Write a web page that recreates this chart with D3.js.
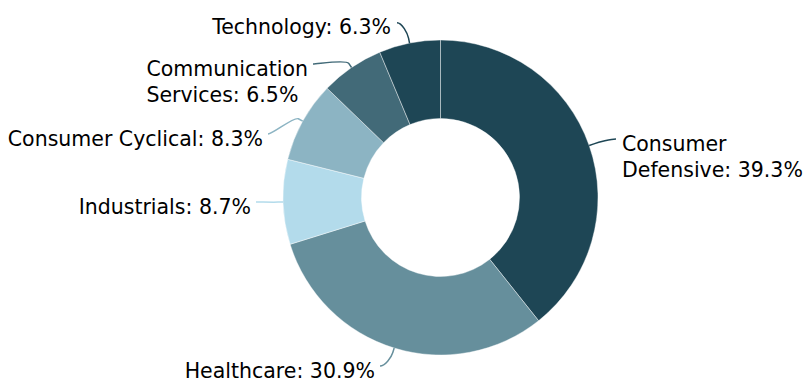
<!DOCTYPE html>
<html>
<head>
<meta charset="utf-8">
<script src="https://cdn.jsdelivr.net/npm/d3@7"></script>
<style>
	html, body { margin: 0; padding: 0; background: #ffffff; }
	svg { display: block; }
</style>
</head>
<body>
<div id="chart"></div>
<script>

// sector breakdown, clockwise from 12 o'clock
var sectors = ['Consumer Defensive', 'Healthcare', 'Industrials', 'Consumer Cyclical', 'Communication Services', 'Technology'];
var weights = [39.3, 30.9, 8.7, 8.3, 6.5, 6.3];
var colors = ['#1e4655', '#668f9c', '#b3dbeb', '#8cb4c3', '#426a78', '#1e4655'];

// where each label's connector ends (relative to pie centre), and how the text wraps
var labelAnchors = [[175.5, -58.5], [-60.5, 168.5], [-184.5, 4.5], [-172.5, -63.5], [-127.5, -133.5], [-43.5, -174.8]];
var breakAfterFirstWord = [true, false, false, false, true, false];

var width = 809, height = 392;
var cx = 440.5, cy = 197.5;
var outerR = 157.5, innerR = 79;
var fontSize = 20.5, lineHeight = 26.5;

var svg = d3.select('#chart')
	.append('svg')
	.attr('width', width)
	.attr('height', height);

var g = svg.append('g')
	.attr('transform', 'translate(' + cx + ',' + cy + ')');

var pie = d3.pie()
	.sort(null)
	.value(function(d) { return d; });

var arcs = pie(weights);

var arc = d3.arc()
	.innerRadius(innerR)
	.outerRadius(outerR);

g.selectAll('path.slice')
	.data(arcs)
	.enter()
	.append('path')
	.attr('class', 'slice')
	.attr('d', arc)
	.attr('fill', function(d, i) { return colors[i]; })
	.attr('stroke', '#ffffff')
	.attr('stroke-width', 0.6)
	.attr('stroke-opacity', 0.7);

// point on a circle of radius r at pie angle a (0 = up, clockwise)
function polar(a, r) {
	return [Math.sin(a) * r, -Math.cos(a) * r];
}

// soft connector: label -> curve -> break point -> slice edge
arcs.forEach(function(d, i) {
	var mid = (d.startAngle + d.endAngle) / 2;
	var touch = polar(mid, outerR);
	var brk = polar(mid, outerR + 5);
	var lab = labelAnchors[i];
	var right = lab[0] > 0;

	var p = d3.path();
	p.moveTo(lab[0], lab[1]);
	p.bezierCurveTo(lab[0] + (right ? -5 : 5), lab[1],
		2 * brk[0] - touch[0], 2 * brk[1] - touch[1],
		brk[0], brk[1]);
	p.lineTo(touch[0], touch[1]);

	g.append('path')
		.attr('d', p.toString())
		.attr('fill', 'none')
		.attr('stroke', colors[i])
		.attr('stroke-width', 1.5);
});

// labels
arcs.forEach(function(d, i) {
	var name = sectors[i];
	var text = name + ': ' + d3.format('.1f')(weights[i]) + '%';
	var lines = [text];
	if (breakAfterFirstWord[i]) {
		var k = text.indexOf(' ');
		lines = [text.slice(0, k), text.slice(k + 1)];
	}
	var lab = labelAnchors[i];
	var right = lab[0] > 0;

	var t = g.append('text')
		.attr('font-family', '"DejaVu Sans", sans-serif')
		.attr('font-size', fontSize + 'px')
		.attr('fill', '#000000');

	lines.forEach(function(line, j) {
		t.append('tspan')
			.attr('x', 0)
			.attr('y', lab[1] + 11.5 + j * lineHeight)
			.text(line);
	});

	// block is left aligned inside; push it clear of the connector end
	var w = t.node().getBBox().width;
	var x0 = right ? lab[0] + 6 : lab[0] - 5 - w;
	t.selectAll('tspan').attr('x', x0);
});

</script>
</body>
</html>
